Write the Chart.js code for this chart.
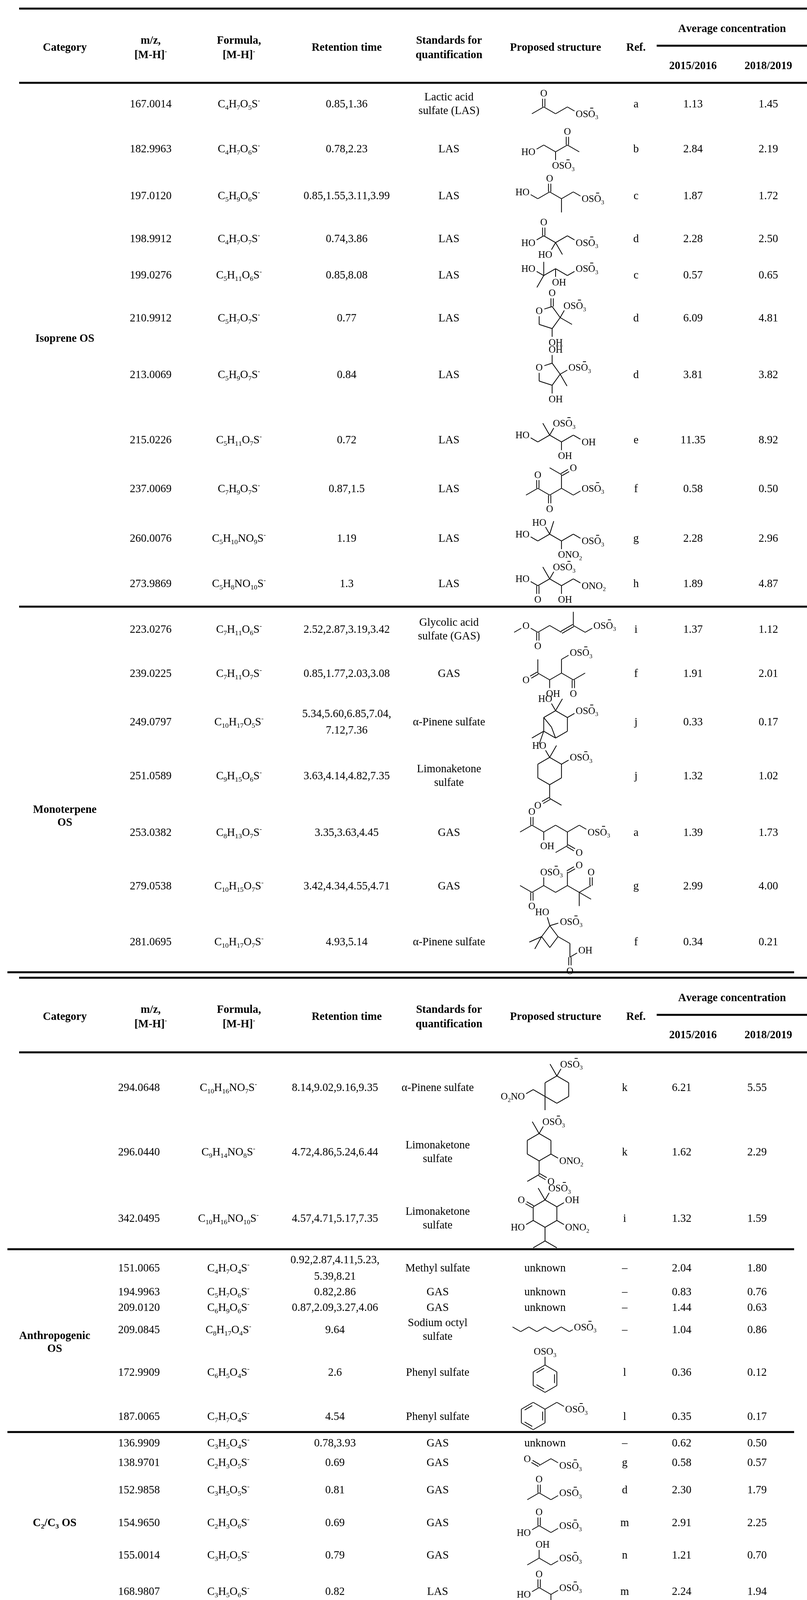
<!DOCTYPE html>
<html>
<head>
<meta charset="utf-8">
<script src="https://cdn.jsdelivr.net/npm/chart.js@4.4.0/dist/chart.umd.min.js"></script>
<style>
  html, body { margin: 0; padding: 0; background: #fff; }
  #wrap { width: 2067px; height: 4387px; }
</style>
</head>
<body>
<div id="wrap"><canvas id="os-table" width="2067" height="4387"></canvas></div>
<script>
var H = 0.866;

// ---- data ----
var categories = [["Isoprene OS"], ["Monoterpene", "OS"], ["Anthropogenic", "OS"], ["C2/C3 OS"], ["Unknown", "source OS"]];

var mzValues = ["167.0014", "182.9963", "197.0120", "198.9912", "199.0276", "210.9912", "213.0069", "215.0226", "237.0069", "260.0076", "273.9869",
  "223.0276", "239.0225", "249.0797", "251.0589", "253.0382", "279.0538", "281.0695",
  "294.0648", "296.0440", "342.0495",
  "151.0065", "194.9963", "209.0120", "209.0845", "172.9909", "187.0065",
  "136.9909", "138.9701", "152.9858", "154.9650", "155.0014", "168.9807",
  "164.9858", "241.9971"];

var formulas = ["C4H7O5S-", "C4H7O6S-", "C5H9O6S-", "C4H7O7S-", "C5H11O6S-", "C5H7O7S-", "C5H9O7S-", "C5H11O7S-", "C7H9O7S-", "C5H10NO9S-", "C5H8NO10S-",
  "C7H11O6S-", "C7H11O7S-", "C10H17O5S-", "C9H15O6S-", "C8H13O7S-", "C10H15O7S-", "C10H17O7S-",
  "C10H16NO7S-", "C9H14NO8S-", "C10H16NO10S-",
  "C4H7O4S-", "C5H7O6S-", "C6H9O6S-", "C8H17O4S-", "C6H5O4S-", "C7H7O4S-",
  "C3H5O4S-", "C2H3O5S-", "C3H5O5S-", "C2H3O6S-", "C3H7O5S-", "C3H5O6S-",
  "C4H5O5S-", "C5H8NO6S-"];

var retentionTimes = ["0.85,1.36", "0.78,2.23", "0.85,1.55,3.11,3.99", "0.74,3.86", "0.85,8.08", "0.77", "0.84", "0.72", "0.87,1.5", "1.19", "1.3",
  "2.52,2.87,3.19,3.42", "0.85,1.77,2.03,3.08", "5.34,5.60,6.85,7.04,\n7.12,7.36", "3.63,4.14,4.82,7.35", "3.35,3.63,4.45", "3.42,4.34,4.55,4.71", "4.93,5.14",
  "8.14,9.02,9.16,9.35", "4.72,4.86,5.24,6.44", "4.57,4.71,5.17,7.35",
  "0.92,2.87,4.11,5.23,\n5.39,8.21", "0.82,2.86", "0.87,2.09,3.27,4.06", "9.64", "2.6", "4.54",
  "0.78,3.93", "0.69", "0.81", "0.69", "0.79", "0.82",
  "0.79", "3.39,3.57,3.93,4.21"];

var standards = ["Lactic acid\nsulfate (LAS)", "LAS", "LAS", "LAS", "LAS", "LAS", "LAS", "LAS", "LAS", "LAS", "LAS",
  "Glycolic acid\nsulfate (GAS)", "GAS", "α-Pinene sulfate", "Limonaketone\nsulfate", "GAS", "GAS", "α-Pinene sulfate",
  "α-Pinene sulfate", "Limonaketone\nsulfate", "Limonaketone\nsulfate",
  "Methyl sulfate", "GAS", "GAS", "Sodium octyl\nsulfate", "Phenyl sulfate", "Phenyl sulfate",
  "GAS", "GAS", "GAS", "GAS", "GAS", "LAS",
  "Methyl sulfate", "Methyl sulfate"];

var refs = ["a", "b", "c", "d", "c", "d", "d", "e", "f", "g", "h",
  "i", "f", "j", "j", "a", "g", "f",
  "k", "k", "i",
  "–", "–", "–", "–", "l", "l",
  "–", "g", "d", "m", "n", "m",
  "n", "n"];

var conc2015 = [1.13, 2.84, 1.87, 2.28, 0.57, 6.09, 3.81, 11.35, 0.58, 2.28, 1.89,
  1.37, 1.91, 0.33, 1.32, 1.39, 2.99, 0.34,
  6.21, 1.62, 1.32,
  2.04, 0.83, 1.44, 1.04, 0.36, 0.35,
  0.62, 0.58, 2.30, 2.91, 1.21, 2.24,
  1.20, 1.67];

var conc2018 = [1.45, 2.19, 1.72, 2.50, 0.65, 4.81, 3.82, 8.92, 0.50, 2.96, 4.87,
  1.12, 2.01, 0.17, 1.02, 1.73, 4.00, 0.21,
  5.55, 2.29, 1.59,
  1.80, 0.76, 0.63, 0.86, 0.12, 0.17,
  0.50, 0.57, 1.79, 2.25, 0.70, 1.94,
  0.78, 1.21];

var sumValues = [65.48, 59.04];

// skeletal drawings: atoms [x, y, label, anchor] in bond units, bonds [from, to, order]
var structures = [
  {a: [[0,.5],[H,0],[H,-1,'O'],[2*H,.5],[3*H,0],[4*H,.5,'OSO3-']], b: [[0,1],[1,2,2],[1,3],[3,4],[4,5]]},
  {a: [[0,.5,'HO'],[H,0],[2*H,.5],[2*H,1.5,'OSO3-'],[3*H,0],[3*H,-1,'O'],[4*H,.5]], b: [[0,1],[1,2],[2,3],[2,4],[4,5,2],[4,6]]},
  {a: [[0,0,'HO'],[H,.5],[2*H,0],[2*H,-1,'O'],[3*H,.5],[3*H,1.5],[4*H,0],[5*H,.5,'OSO3-']], b: [[0,1],[1,2],[2,3,2],[2,4],[4,5],[4,6],[6,7]]},
  {a: [[H,0],[H,-1,'O'],[0,.5,'HO'],[2*H,.5],[2*H-.5,1.366,'HO'],[2*H+.5,1.366],[3*H,0],[4*H,.5,'OSO3-']], b: [[0,1,2],[0,2],[0,3],[3,4],[3,5],[3,6],[6,7]]},
  {a: [[0,0,'HO'],[H,.5],[H,-.5],[H-.5,1.366],[2*H,0],[2*H,1,'OH'],[3*H,.5],[4*H,0,'OSO3-']], b: [[0,1],[1,2],[1,3],[1,4],[4,5],[4,6],[6,7]]},
  {a: [[.263,-.809],[.263,-1.809,'O'],[-.688,-.5,'O'],[-.688,.5],[.263,.809],[.263,1.809,'OH'],[.85,0],[1.35,-.866,'OSO3-'],[1.716,.5]], b: [[0,1,2],[0,2],[2,3],[3,4],[4,5],[4,6],[6,0],[6,7],[6,8]]},
  {a: [[.263,-.809],[.263,-1.809,'OH'],[-.688,-.5,'O'],[-.688,.5],[.263,.809],[.263,1.809,'OH'],[.85,0],[1.716,-.5,'OSO3-'],[1.35,.866]], b: [[0,1],[0,2],[2,3],[3,4],[4,5],[4,6],[6,0],[6,7],[6,8]]},
  {a: [[0,0,'HO'],[H,.5],[2*H,0],[2*H-.5,-.866],[2*H+.5,-.866,'OSO3-'],[3*H,.5],[3*H,1.5,'OH'],[4*H,0],[5*H,.5,'OH']], b: [[0,1],[1,2],[2,3],[2,4],[2,5],[5,6],[5,7],[7,8]]},
  {a: [[0,.5],[H,0],[H,-1,'O'],[2*H,.5],[2*H,1.5,'O'],[3*H,0],[3*H,-1],[4*H,-1.5,'O'],[2*H,-1.5],[4*H,.5],[5*H,0,'OSO3-']], b: [[0,1],[1,2,2],[1,3],[3,4,2],[3,5],[5,6],[6,7,2],[6,8],[5,9],[9,10]]},
  {a: [[0,0,'HO'],[H,.5],[2*H,0],[2*H-.5,-.866,'HO'],[2*H+.3,-.95],[3*H,.5],[3*H,1.5,'ONO2'],[4*H,0],[5*H,.5,'OSO3-']], b: [[0,1],[1,2],[2,3],[2,4],[2,5],[5,6],[5,7],[7,8]]},
  {a: [[0,0,'HO'],[H,.5],[H,1.5,'O'],[2*H,0],[2*H-.5,-.866],[2*H+.5,-.866,'OSO3-'],[3*H,.5],[3*H,1.5,'OH'],[4*H,0],[5*H,.5,'ONO2']], b: [[0,1],[1,2,2],[1,3],[3,4],[3,5],[3,6],[6,7],[6,8],[8,9]]},
  {a: [[0,.5],[H,0,'O'],[2*H,.5],[2*H,1.5,'O'],[3*H,0],[4*H,.5],[5*H,0],[5*H,-1],[6*H,.5],[7*H,0,'OSO3-']], b: [[0,1],[1,2],[2,3,2],[2,4],[4,5],[5,6,2],[6,7],[6,8],[8,9]]},
  {a: [[0,-1],[0,0],[-H,.5,'O'],[H,.5],[H,1.5,'OH'],[2*H,0],[2*H,-1],[3*H,-1.5,'OSO3-'],[3*H,.5],[3*H,1.5,'O'],[4*H,0]], b: [[0,1],[1,2,2],[1,3],[3,4],[3,5],[5,6],[6,7],[5,8],[8,9,2],[8,10]]},
  {a: [[0,-1],[H,-.5],[H,.5],[0,1],[-H,.5],[-H,-.5],[-.5,-1.866,'HO'],[.5,-1.866],[2*H,-1,'OSO3-'],[-.3,.2],[-2*H,1],[-1.2,1.45]], b: [[0,1],[1,2],[2,3],[3,4],[4,5],[5,0],[0,6],[0,7],[1,8],[3,9],[9,5],[4,10],[4,11]]},
  {a: [[0,-1],[H,-.5],[H,.5],[0,1],[-H,.5],[-H,-.5],[-.5,-1.866,'HO'],[.5,-1.866],[2*H,-1,'OSO3-'],[0,2],[-H,2.5,'O'],[H,2.5]], b: [[0,1],[1,2],[2,3],[3,4],[4,5],[5,0],[0,6],[0,7],[1,8],[3,9],[9,10,2],[9,11]]},
  {a: [[0,.5],[H,0],[H,-1,'O'],[2*H,.5],[2*H,1.5,'OH'],[3*H,0],[4*H,.5],[4*H,1.5],[5*H,2,'O'],[3*H,2],[5*H,0],[6*H,.5,'OSO3-']], b: [[0,1],[1,2,2],[1,3],[3,4],[3,5],[5,6],[6,7],[7,8,2],[7,9],[6,10],[10,11]]},
  {a: [[0,0],[H,.5],[H,1.5,'O'],[2*H,0],[2*H,-1,'OSO3-'],[3*H,.5],[4*H,0],[4*H,-1],[5*H,-1.5,'O'],[5*H,.5],[6*H,1],[5*H,1.5],[6*H,0],[6*H,-1,'O']], b: [[0,1],[1,2,2],[1,3],[3,4],[3,5],[5,6],[6,7],[7,8,2],[6,9],[9,10],[9,11],[9,12],[12,13,2]]},
  {a: [[0,0],[-.3,-1,'HO'],[1,-.3,'OSO3-'],[-.6,.8],[0,1.6],[.6,.8],[-1.5,1.2],[-1.1,1.7],[1.47,1.3],[1.47,2.3],[2.34,1.8,'OH'],[1.47,3.3,'O']], b: [[0,1],[0,2],[0,3],[3,4],[4,5],[5,0],[3,6],[3,7],[5,8],[8,9],[9,10],[9,11,2]]},
  {a: [[0,-1],[H,-.5],[H,.5],[0,1],[-H,.5],[-H,-.5],[-.5,-1.866],[.5,-1.866,'OSO3-'],[-2*H,0],[-3*H,.5,'O2NO','R'],[-H,1.5]], b: [[0,1],[1,2],[2,3],[3,4],[4,5],[5,0],[0,6],[0,7],[4,8],[8,9],[4,10]]},
  {a: [[0,-1],[H,-.5],[H,.5],[0,1],[-H,.5],[-H,-.5],[-.5,-1.866],[.5,-1.866,'OSO3-'],[2*H,1,'ONO2'],[0,2],[H,2.5,'O'],[-H,2.5]], b: [[0,1],[1,2],[2,3],[3,4],[4,5],[5,0],[0,6],[0,7],[2,8],[3,9],[9,10,2],[9,11]]},
  {a: [[0,-1],[H,-.5],[H,.5],[0,1],[-H,.5],[-H,-.5],[-.5,-1.866],[.5,-1.866,'OSO3-'],[2*H,-1,'OH'],[-2*H,-1,'O'],[-2*H,1,'HO'],[2*H,1,'ONO2'],[0,2],[-H,2.5],[H,2.5]], b: [[0,1],[1,2],[2,3],[3,4],[4,5],[5,0],[0,6],[0,7],[1,8],[5,9,2],[4,10],[2,11],[3,12],[12,13],[12,14]]},
  null, null, null,
  {u: 24, a: [[0,0],[H,.5],[2*H,0],[3*H,.5],[4*H,0],[5*H,.5],[6*H,0],[7*H,.5],[8*H,0,'OSO3-']], b: [[0,1],[1,2],[2,3],[3,4],[4,5],[5,6],[6,7],[7,8]]},
  {a: [[0,-1],[H,-.5],[H,.5],[0,1],[-H,.5],[-H,-.5],[0,-2,'OSO3','c']], b: [[0,1],[1,2,3],[2,3],[3,4,3],[4,5],[5,0,3],[0,6]]},
  {a: [[0,-1],[H,-.5],[H,.5],[0,1],[-H,.5],[-H,-.5],[2*H,-1],[3*H,-.5,'OSO3-']], b: [[0,1],[1,2,3],[2,3],[3,4,3],[4,5],[5,0,3],[1,6],[6,7]]},
  null,
  {a: [[0,0,'O'],[H,.5],[2*H,0],[3*H,.5,'OSO3-']], b: [[0,1,2],[1,2],[2,3]]},
  {a: [[0,.5],[H,0],[H,-1,'O'],[2*H,.5],[3*H,0,'OSO3-']], b: [[0,1],[1,2,2],[1,3],[3,4]]},
  {a: [[0,.5,'HO'],[H,0],[H,-1,'O'],[2*H,.5],[3*H,0,'OSO3-']], b: [[0,1],[1,2,2],[1,3],[3,4]]},
  {a: [[0,.5],[H,0],[H,-1,'OH'],[2*H,.5],[3*H,0,'OSO3-']], b: [[0,1],[1,2],[1,3],[3,4]]},
  {a: [[0,.5,'HO'],[H,0],[H,-1,'O'],[2*H,.5],[2*H,1.5],[3*H,0,'OSO3-']], b: [[0,1],[1,2,2],[1,3],[3,4],[3,5]]},
  {rc: [0,0], a: [[0,-.85,'O'],[.809,-.263],[.5,.688],[-.5,.688],[-.809,-.263],[1.3,1.0,'OSO3-']], b: [[0,1],[1,2],[2,3],[3,4,3],[4,0],[2,5]]},
  {a: [[0,0,'O2NO','R'],[H,.5],[2*H,0],[2*H,-1],[3*H,.5],[3*H,1.5,'O'],[4*H,0],[5*H,.5,'OSO3-']], b: [[0,1],[1,2],[2,3],[2,4],[4,5,2],[4,6],[6,7]]}
];

// ---- layout ----
var W = 2067, HGT = 4387;
var FONT = '"Liberation Serif", "Times New Roman", serif';
var FS = 28.5, LFS = 25, UNIT = 35;
var rowY = [265, 380, 500, 610, 703, 813, 958, 1125, 1250, 1377, 1493,
  1610, 1723, 1847, 1985, 2130, 2267, 2410,
  2783, 2948, 3118,
  3245, 3306, 3346, 3403, 3512, 3625,
  3693, 3743, 3813, 3897, 3980, 4073,
  4178, 4273];
var secondBodyStart = 18;
var colA = {mz: 386, formula: 612, ret: 888, std: 1150, struct: 1423, ref: 1629, c1: 1775, c2: 1968};
var colB = {mz: 356, formula: 585, ret: 858, std: 1121, struct: 1396, ref: 1600, c1: 1746, c2: 1939};
var headerTops = [0, 2481];
var catPos = [[166, 865], [166, 2088], [140, 3435], [140, 3897], [140, 4224]];
var sumY = 4340;
var rules = [[22, 49, 2067], [117, 1682, 2067], [212, 49, 2067], [1553, 49, 2067], [2489, 19, 2034],
  [2503, 49, 2067], [2598, 1682, 2067], [2694, 49, 2067], [3198, 19, 2034], [3666, 19, 2034],
  [4127, 19, 2034], [4319, 19, 2034], [4359, 19, 2034]];

function layoutRich(ctx, s, size, bold) {
  var items = [], x = 0;
  for (var i = 0; i < s.length; i++) {
    var ch = s[i], kind = 0;
    if (/[0-9]/.test(ch) && i > 0 && (/[A-Za-z]/.test(s[i - 1]) || items[i - 1].kind === 1)) kind = 1;
    if (ch === '-' && i === s.length - 1 && i > 0) kind = 2;
    var fs = kind ? size * 0.62 : size;
    ctx.font = (bold ? 'bold ' : '') + fs + 'px ' + FONT;
    var w = ctx.measureText(ch).width;
    items.push({ch: ch, kind: kind, x: x, w: w, fs: fs});
    x += w;
  }
  return {items: items, width: x};
}

function drawRich(ctx, s, x, y, size, bold, anchor) {
  var L = layoutRich(ctx, s, size, bold);
  var it = L.items, x0;
  if (anchor === 'L') x0 = x - it[0].w / 2;
  else if (anchor === 'R') x0 = x - it[it.length - 1].x - it[it.length - 1].w / 2;
  else x0 = x - L.width / 2;
  var base = y + size * 0.34;
  ctx.fillStyle = '#000';
  ctx.textAlign = 'left';
  ctx.textBaseline = 'alphabetic';
  it.forEach(function(g) {
    ctx.font = (bold ? 'bold ' : '') + g.fs + 'px ' + FONT;
    var by = base + (g.kind === 1 ? size * 0.22 : g.kind === 2 ? -size * 0.42 : 0);
    ctx.fillText(g.ch, x0 + g.x, by);
    g.ax = x0 + g.x;
  });
  return {items: it, base: base};
}

function drawLines(ctx, text, x, y, size, lh, bold) {
  var lines = text.split('\n');
  var top = y - (lines.length - 1) * lh / 2;
  lines.forEach(function(t, k) { drawRich(ctx, t, x, top + k * lh, size, bold); });
}

function seg(ctx, x0, y0, x1, y1) {
  ctx.beginPath(); ctx.moveTo(x0, y0); ctx.lineTo(x1, y1); ctx.stroke();
}

function drawStructure(ctx, st, cx, cy) {
  var u = st.u || UNIT, A = st.a;
  var minx = 1e9, maxx = -1e9, miny = 1e9, maxy = -1e9;
  A.forEach(function(a) {
    minx = Math.min(minx, a[0]); maxx = Math.max(maxx, a[0]);
    miny = Math.min(miny, a[1]); maxy = Math.max(maxy, a[1]);
  });
  var ox = cx - (minx + maxx) / 2 * u, oy = cy - (miny + maxy) / 2 * u;
  var P = A.map(function(a) { return [ox + a[0] * u, oy + a[1] * u]; });
  var rc = st.rc || [0, 0];
  var rcx = ox + rc[0] * u, rcy = oy + rc[1] * u;
  ctx.strokeStyle = '#000';
  ctx.lineWidth = 2;
  st.b.forEach(function(b) {
    var p = P[b[0]], q = P[b[1]];
    var dx = q[0] - p[0], dy = q[1] - p[1], len = Math.sqrt(dx * dx + dy * dy);
    var ux = dx / len, uy = dy / len;
    var s0 = A[b[0]][2] ? 14 : 0, s1 = A[b[1]][2] ? 14 : 0;
    var x0 = p[0] + ux * s0, y0 = p[1] + uy * s0, x1 = q[0] - ux * s1, y1 = q[1] - uy * s1;
    var order = b[2] || 1;
    if (order === 1) {
      seg(ctx, x0, y0, x1, y1);
    } else if (order === 2) {
      var nx = -uy * 3, ny = ux * 3;
      seg(ctx, x0 + nx, y0 + ny, x1 + nx, y1 + ny);
      seg(ctx, x0 - nx, y0 - ny, x1 - nx, y1 - ny);
    } else {
      seg(ctx, x0, y0, x1, y1);
      var mx = (x0 + x1) / 2, my = (y0 + y1) / 2;
      var nx2 = -uy, ny2 = ux;
      if ((rcx - mx) * nx2 + (rcy - my) * ny2 < 0) { nx2 = -nx2; ny2 = -ny2; }
      var sh = 0.18;
      seg(ctx, x0 + dx * sh + nx2 * 6, y0 + dy * sh + ny2 * 6, x1 - dx * sh + nx2 * 6, y1 - dy * sh + ny2 * 6);
    }
  });
  A.forEach(function(a, k) {
    if (!a[2]) return;
    var lab = a[2], bar = false;
    if (lab.charAt(lab.length - 1) === '-') { lab = lab.slice(0, -1); bar = true; }
    var anchor = a[3] || (lab.length === 1 ? 'c' : (lab.charAt(0) === 'O' ? 'L' : 'R'));
    var r = drawRich(ctx, lab, P[k][0], P[k][1], LFS, false, anchor);
    if (bar) {
      var g = r.items[2];
      var bx = g.ax + g.w / 2;
      ctx.lineWidth = 2;
      seg(ctx, bx - 4, r.base - LFS * 0.92, bx + 4, r.base - LFS * 0.92);
    }
  });
}

function drawHeader(ctx, px, py, top) {
  drawRich(ctx, 'Category', px(166), py(top + 120), FS, true);
  drawLines(ctx, 'm/z,\n[M-H]-', px(386), py(top + 121), FS, 37, true);
  drawLines(ctx, 'Formula,\n[M-H]-', px(612), py(top + 121), FS, 37, true);
  drawRich(ctx, 'Retention time', px(888), py(top + 120), FS, true);
  drawLines(ctx, 'Standards for\nquantification', px(1150), py(top + 121), FS, 37, true);
  drawRich(ctx, 'Proposed structure', px(1423), py(top + 120), FS, true);
  drawRich(ctx, 'Ref.', px(1629), py(top + 120), FS, true);
  drawRich(ctx, 'Average concentration', px(1875), py(top + 72), FS, true);
  drawRich(ctx, '2015/2016', px(1775), py(top + 167), FS, true);
  drawRich(ctx, '2018/2019', px(1968), py(top + 167), FS, true);
}

var tablePlugin = {
  id: 'osTable',
  beforeDraw: function(chart) {
    var ctx = chart.ctx;
    ctx.save();
    ctx.fillStyle = '#fff';
    ctx.fillRect(0, 0, chart.width, chart.height);
    ctx.restore();
  },
  afterDraw: function(chart) {
    var ctx = chart.ctx;
    var xs = chart.scales.x, ys = chart.scales.y;
    var px = function(v) { return xs.getPixelForValue(v); };
    var py = function(v) { return ys.getPixelForValue(v); };
    ctx.save();

    ctx.fillStyle = '#000';
    rules.forEach(function(r) {
      ctx.fillRect(px(r[1]), py(r[0]) - 2.5, px(r[2]) - px(r[1]), 5);
    });

    headerTops.forEach(function(t) { drawHeader(ctx, px, py, t); });

    categories.forEach(function(lines, k) {
      drawLines(ctx, lines.join('\n'), px(catPos[k][0]), py(catPos[k][1]), FS, 33, true);
    });

    for (var i = 0; i < mzValues.length; i++) {
      var c = i < secondBodyStart ? colA : colB;
      var y = py(rowY[i]);
      drawRich(ctx, mzValues[i], px(c.mz), y, FS);
      drawRich(ctx, formulas[i], px(c.formula), y, FS);
      drawLines(ctx, retentionTimes[i], px(c.ret), y, FS, 42);
      drawLines(ctx, standards[i], px(c.std), y, FS, 35);
      if (structures[i]) drawStructure(ctx, structures[i], px(c.struct), y);
      else drawRich(ctx, 'unknown', px(c.struct), y, FS);
      drawRich(ctx, refs[i], px(c.ref), y, FS);
      drawRich(ctx, conc2015[i].toFixed(2), px(c.c1), y, FS);
      drawRich(ctx, conc2018[i].toFixed(2), px(c.c2), y, FS);
    }

    drawRich(ctx, 'SUM', px(169), py(sumY), FS, true);
    drawRich(ctx, sumValues[0].toFixed(2), px(colB.c1), py(sumY), FS, true);
    drawRich(ctx, sumValues[1].toFixed(2), px(colB.c2), py(sumY), FS, true);
    ctx.restore();
  }
};

var ctx = document.getElementById("os-table").getContext("2d");
var chart = new Chart(ctx, {
  type: 'scatter',
  data: {
    datasets: [{
      label: '2015/2016',
      data: conc2015.map(function(v, i) { return {x: (i < secondBodyStart ? colA : colB).c1, y: rowY[i]}; }),
      pointRadius: 0
    }, {
      label: '2018/2019',
      data: conc2018.map(function(v, i) { return {x: (i < secondBodyStart ? colA : colB).c2, y: rowY[i]}; }),
      pointRadius: 0
    }]
  },
  options: {
    responsive: false,
    animation: false,
    devicePixelRatio: 1,
    events: [],
    layout: { padding: 0 },
    plugins: { legend: { display: false }, tooltip: { enabled: false } },
    scales: {
      x: { type: 'linear', min: 0, max: W, display: false },
      y: { type: 'linear', min: 0, max: HGT, reverse: true, display: false }
    }
  },
  plugins: [tablePlugin]
});
</script>
</body>
</html>
